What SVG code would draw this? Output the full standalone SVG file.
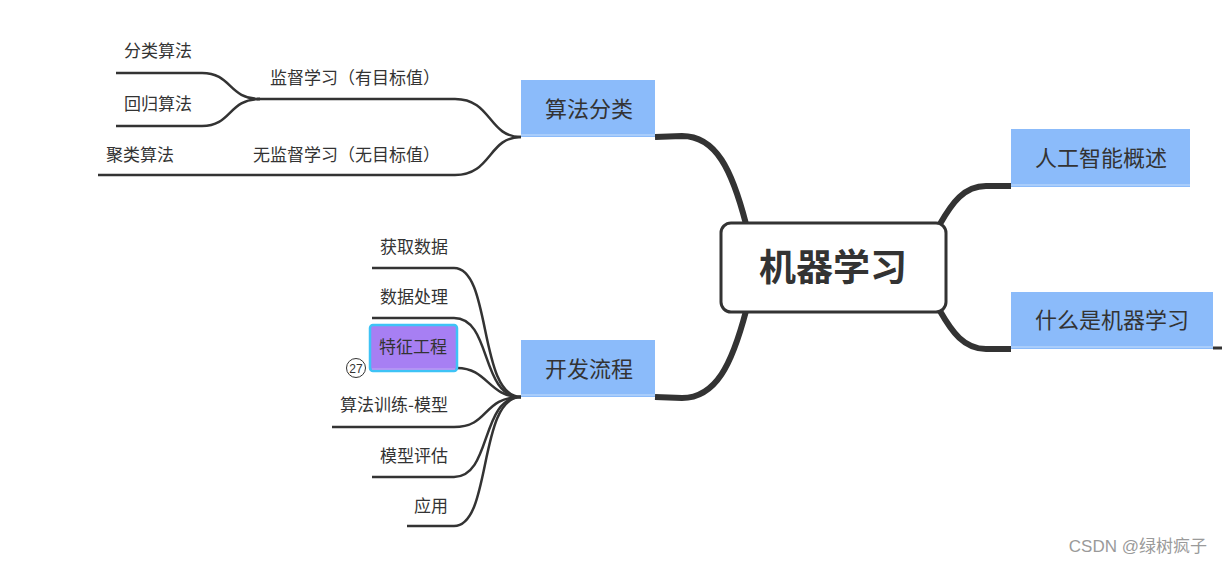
<svg xmlns="http://www.w3.org/2000/svg" width="1222" height="564" viewBox="0 0 1222 564">
<style>
text{font-family:"Noto Sans CJK SC","Noto Sans",sans-serif;fill:#333}
.leaf{font-size:17px}
.main{font-size:22px;text-anchor:middle}
.blue{fill:#8BBBFA}
.blueline{stroke:#A9CDFB;stroke-width:2}
.thin{fill:none;stroke:#333;stroke-width:2.5}
.thick{fill:none;stroke:#333;stroke-width:6}
</style>
<rect width="1222" height="564" fill="#fff"/>
<g id="connectors">
  <path class="thick" d="M655,137 L682,136 C716,136 732,170 746,224"/>
  <path class="thick" d="M655,397 L682,398 C716,398 732,364 746,311"/>
  <path class="thick" d="M940,224 C952,203 964,186 986,186 L1011,186"/>
  <path class="thick" d="M940,311 C952,332 964,349 986,349 L1011,349"/>
  <path d="M1213,348 L1222,348" stroke="#333" stroke-width="3"/>
  <path class="thin" d="M257,99 L455,99 C492,99 488,137 521,137"/>
  <path class="thin" d="M98,175 L455,175 C492,175 488,137 521,137"/>
  <path class="thin" d="M116,73 L202,73 C232,73 228,99 260,99"/>
  <path class="thin" d="M116,126 L202,126 C232,126 228,99 260,99"/>
  <path class="thin" d="M372,268 L454,268 C492,268 478,397 521,397"/>
  <path class="thin" d="M372,318 L454,318 C492,318 480,397 521,397"/>
  <path class="thin" d="M457,368 C488,368 488,397 521,397"/>
  <path class="thin" d="M332,427 L454,427 C490,427 482,397 521,397"/>
  <path class="thin" d="M372,477 L454,477 C492,477 480,397 521,397"/>
  <path class="thin" d="M407,526 L454,526 C492,526 478,397 521,397"/>
</g>
<g id="node-root">
  <rect x="721" y="223" width="225" height="89" rx="10" fill="#fff" stroke="#333" stroke-width="3"/>
  <text x="833" y="281" font-size="37" font-weight="bold" text-anchor="middle">机器学习</text>
</g>
<g id="node-suanfafenlei">
  <rect class="blue" x="521" y="80" width="134" height="57"/>
  <line class="blueline" x1="521" y1="135" x2="655" y2="135"/>
  <text class="main" x="589" y="117">算法分类</text>
</g>
<g id="node-kaifaliucheng">
  <rect class="blue" x="521" y="340" width="134" height="57"/>
  <line class="blueline" x1="521" y1="395" x2="655" y2="395"/>
  <text class="main" x="589" y="377">开发流程</text>
</g>
<g id="node-rengong">
  <rect class="blue" x="1011" y="129" width="179" height="58"/>
  <line class="blueline" x1="1011" y1="185" x2="1190" y2="185"/>
  <text class="main" x="1101" y="166">人工智能概述</text>
</g>
<g id="node-shenme">
  <rect class="blue" x="1011" y="292" width="202" height="57"/>
  <line class="blueline" x1="1011" y1="347" x2="1213" y2="347"/>
  <text class="main" x="1112" y="328">什么是机器学习</text>
</g>
<g id="node-jiandu"><text class="leaf" x="440" y="84" text-anchor="end">监督学习（有目标值）</text></g>
<g id="node-wujiandu"><text class="leaf" x="440" y="161" text-anchor="end">无监督学习（无目标值）</text></g>
<g id="node-fenlei"><text class="leaf" x="124" y="57">分类算法</text></g>
<g id="node-huigui"><text class="leaf" x="124" y="110">回归算法</text></g>
<g id="node-julei"><text class="leaf" x="106" y="161">聚类算法</text></g>
<g id="node-huoqu"><text class="leaf" x="448" y="253" text-anchor="end">获取数据</text></g>
<g id="node-chuli"><text class="leaf" x="448" y="303" text-anchor="end">数据处理</text></g>
<g id="node-tezheng">
  <rect x="370" y="325" width="87" height="46" rx="3" fill="#A77FF3" stroke="#3EC3F6" stroke-width="2.5"/>
  <line x1="372" y1="369" x2="455" y2="369" stroke="#B89BF5" stroke-width="1.5"/>
  <text class="leaf" x="413" y="353" text-anchor="middle">特征工程</text>
  <circle cx="356" cy="368" r="9.5" fill="#fff" stroke="#333" stroke-width="1"/>
  <text x="356" y="372.5" font-size="12" text-anchor="middle" style="font-family:'Liberation Sans',sans-serif">27</text>
</g>
<g id="node-xunlian"><text class="leaf" x="448" y="411" text-anchor="end">算法训练-模型</text></g>
<g id="node-pinggu"><text class="leaf" x="448" y="462" text-anchor="end">模型评估</text></g>
<g id="node-yingyong"><text class="leaf" x="448" y="512" text-anchor="end">应用</text></g>
<text x="1207" y="552" font-size="17" text-anchor="end" style="fill:#9a9a9a;font-family:'Liberation Sans','Noto Sans CJK SC',sans-serif">CSDN @绿树疯子</text>
</svg>
